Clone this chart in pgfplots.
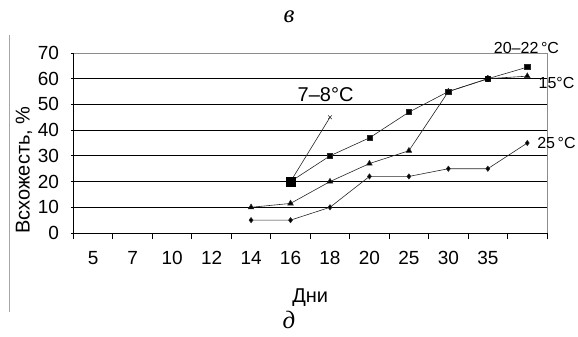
\documentclass[border=0pt]{standalone}
\usepackage{fontspec}
\setmainfont{Liberation Sans}
\newfontfamily\titlefont{Liberation Serif}
\usepackage{pgfplots}
\pgfplotsset{compat=1.18}
\begin{document}
\begin{tikzpicture}[x=1bp,y=1bp]
\path[use as bounding box] (-73.5,-103) rectangle (504.5,233);
% chart area edge
\draw[black!35, line width=0.8bp] (-64.5,198) -- (-64.5,-79);
% panel letters
\node[font=\titlefont\itshape\fontsize{25bp}{28bp}\selectfont] at (215.5,216) {в};
\node[font=\titlefont\itshape\fontsize{25bp}{28bp}\selectfont] at (215.5,-87) {д};
% axis titles
\node[rotate=90, font=\fontsize{20bp}{22bp}\selectfont] at (-49.5,63) {Всхожесть, \%};
\node[font=\fontsize{20bp}{22bp}\selectfont] at (236.75,-65) {Дни};
\begin{axis}[
  scale only axis, width=473.5bp, height=180bp,
  xmin=0, xmax=12, ymin=0, ymax=70,
  clip=false,
  axis x line*=bottom, axis y line*=left,
  axis line style={black, line width=1bp, -},
  tick label style={font=\fontsize{19bp}{21bp}\selectfont},
  /pgf/number format/assume math mode=true,
  xtick={0,1,...,12}, xticklabels={},
  xtick align=outside,
  major tick length=6bp,
  tick style={black, line width=1bp},
  extra x ticks={0.5,1.5,...,10.5},
  extra x tick labels={5,7,10,12,14,16,18,20,25,30,35},
  extra x tick style={major tick length=0pt, xticklabel style={yshift=-15bp}},
  ytick={0,10,...,70},
  ytick align=center,
  yticklabel style={xshift=-8bp},
  extra y ticks={10,20,...,60},
  extra y tick labels={},
  extra y tick style={grid=major, major tick length=0pt},
  major grid style={black, line width=1.2bp},
]
% upper frame edge and right edge
\draw[black!45, line width=1bp] (axis cs:0,70) -- (axis cs:12,70) -- (axis cs:12,0);

% 25 °C
\addplot[black!85, line width=0.6bp, mark=diamond*, mark size=2.6bp, mark options={solid, fill=black}]
  coordinates {(4.5,5) (5.5,5) (6.5,10) (7.5,22) (8.5,22) (9.5,25) (10.5,25) (11.5,35)};
% 15 °C
\addplot[black!85, line width=0.6bp, mark=triangle*, mark size=3.2bp, mark options={solid, fill=black}]
  coordinates {(4.5,10) (5.5,11.5) (6.5,20) (7.5,27) (8.5,32) (9.5,55) (10.5,60) (11.5,61)};
% 20-22 °C
\addplot[black!85, line width=0.6bp, mark=square*, mark size=2.6bp, mark options={solid, fill=black}]
  coordinates {(5.5,20) (6.5,30) (7.5,37) (8.5,47) (9.5,55) (10.5,60) (11.5,64.5)};
% 7-8 °C
\addplot[black!85, line width=0.6bp, mark=x, mark size=2.6bp, mark options={solid}]
  coordinates {(5.5,20) (6.5,45)};
% enlarged start point shared by the cool series
\addplot[only marks, mark=square*, mark size=4.2bp, black] coordinates {(5.5,20)};
\addplot[only marks, mark=*, mark size=3bp, black] coordinates {(10.5,60)};

\node[font=\fontsize{20bp}{22bp}\selectfont] at (axis cs:6.39,53.7) {7–8°C};
\node[font=\fontsize{16bp}{18bp}\selectfont] at (axis cs:11.48,72) {20–22\,°C};
\node[font=\fontsize{16bp}{18bp}\selectfont] at (axis cs:12.24,58.3) {15°C};
\node[font=\fontsize{16bp}{18bp}\selectfont] at (axis cs:12.24,35) {25\,°C};
\end{axis}
\end{tikzpicture}
\end{document}
